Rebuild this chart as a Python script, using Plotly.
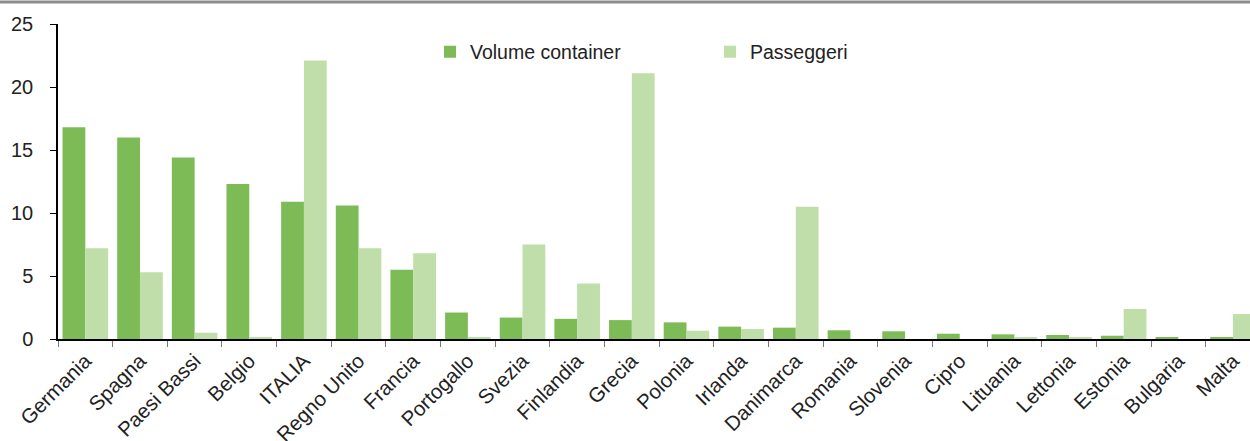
import plotly.graph_objects as go

countries = ["Germania", "Spagna", "Paesi Bassi", "Belgio", "ITALIA", "Regno Unito",
             "Francia", "Portogallo", "Svezia", "Finlandia", "Grecia", "Polonia",
             "Irlanda", "Danimarca", "Romania", "Slovenia", "Cipro", "Lituania",
             "Lettonia", "Estonia", "Bulgaria", "Malta"]
container = [16.8, 16.0, 14.4, 12.3, 10.9, 10.6, 5.5, 2.1, 1.7, 1.6, 1.5, 1.32,
             0.98, 0.9, 0.69, 0.61, 0.42, 0.37, 0.32, 0.26, 0.16, 0.1]
passeggeri = [7.2, 5.3, 0.5, 0.15, 22.1, 7.2, 6.8, 0.15, 7.5, 4.4, 21.1, 0.66,
              0.79, 10.5, 0.0, 0.0, 0.0, 0.08, 0.16, 2.38, 0.0, 1.98]
yticks = [0, 5, 10, 15, 20, 25]

FONT = "Liberation Sans, Arial, sans-serif"
W, H = 1250, 441
ML, MR, MT, MB = 58, 0, 24, 102
pw = W - ML - MR
ph = H - MT - MB

fig = go.Figure()
fig.add_trace(go.Bar(x=countries, y=container, name="Volume container",
                     marker=dict(color="#7dbb57", line=dict(width=0))))
fig.add_trace(go.Bar(x=countries, y=passeggeri, name="Passeggeri",
                     marker=dict(color="#bfdeaa", line=dict(width=0))))

cat_px = 54.65
span = pw / cat_px

fig.update_layout(
    width=W, height=H,
    margin=dict(l=ML, r=MR, t=MT, b=MB, pad=0),
    paper_bgcolor="white", plot_bgcolor="white",
    barmode="group", bargap=0.166, bargroupgap=0,
    font=dict(family=FONT, size=19, color="#222222"),
    showlegend=True,
    legend=dict(orientation="h", x=(430 - ML) / pw, xanchor="left",
                y=1 - (52 - MT) / ph, yanchor="middle",
                entrywidth=235, entrywidthmode="pixels",
                font=dict(family=FONT, size=19.5, color="#222222"),
                bgcolor="rgba(0,0,0,0)", itemwidth=30),
    xaxis=dict(type="category", range=[-0.5, -0.5 + span],
               showline=True, linecolor="black", linewidth=1.5,
               ticks="outside", ticklen=6, tickcolor="#777777", tickwidth=1,
               tickson="boundaries", tickangle=-45,
               tickfont=dict(family=FONT, size=20.5, color="#222222"),
               showgrid=False, zeroline=False, automargin=False),
    yaxis=dict(range=[0, 25], tickvals=yticks, ticktext=[str(v) for v in yticks],
               showline=True, linecolor="black", linewidth=1.5,
               ticks="outside", ticklen=6, tickcolor="black",
               tickfont=dict(family=FONT, size=20, color="#222222"),
               ticklabelstandoff=13,
               showgrid=False, zeroline=False, automargin=False),
    shapes=[dict(type="line", xref="paper", yref="paper",
                 x0=-ML / pw, x1=1.0, y0=1 + (MT - 2) / ph, y1=1 + (MT - 2) / ph,
                 line=dict(color="#8c8c8c", width=3))],
)

fig.write_html("out.html", config={"displayModeBar": False},
               post_script="document.body.style.margin='0px';")
